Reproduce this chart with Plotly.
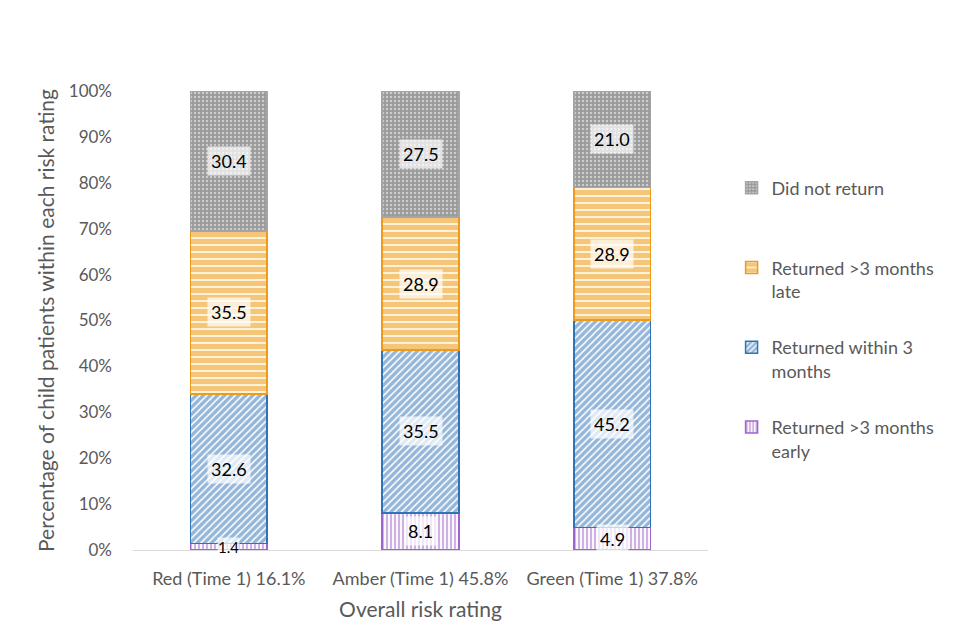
import plotly.graph_objects as go

categories = ["Red (Time 1) 16.1%", "Amber (Time 1) 45.8%", "Green (Time 1) 37.8%"]
early = [1.4, 8.1, 4.9]
within3 = [32.6, 35.5, 45.2]
late = [35.5, 28.9, 28.9]
did_not = [30.4, 27.5, 21.0]

series = [
    ("Returned >3 months<br>early", early,
     dict(shape="|", fgcolor="#9E64CC", bgcolor="#FFFFFF", size=4, solidity=0.55), "#9E64CC", 4),
    ("Returned within 3<br>months", within3,
     dict(shape="/", fgcolor="#2A6FB4", bgcolor="#FFFFFF", size=5, solidity=0.7), "#2E75B6", 3),
    ("Returned >3 months<br>late", late,
     dict(shape="-", fgcolor="#EE9A1C", bgcolor="#FDF1D6", size=7, solidity=0.72), "#EE9A1C", 2),
    ("Did not return<br>\u00a0", did_not,
     dict(shape=".", fgcolor="#FFFFFF", bgcolor="#9A9A9A", size=4, solidity=0.3), "#A5A5A5", 1),
]

fig = go.Figure()
for i, (name, vals, pat, line, rank) in enumerate(series):
    fig.add_trace(go.Bar(
        x=categories, y=vals, name=name, legendgroup=f"g{i}", legendrank=rank,
        marker=dict(color=pat["bgcolor"], pattern=pat, line=dict(color=line, width=1.5)),
        width=0.4,
    ))

annotations = []
base = [0.0] * len(categories)
for name, vals, pat, line, rank in series:
    for j, v in enumerate(vals):
        mid = base[j] + v / 2
        annotations.append(dict(
            x=categories[j], y=mid, xref="x", yref="y", text=f"{v:.1f}", showarrow=False,
            font=dict(size=18 if v > 3 else 15, color="#000000", family="Lato"),
            bgcolor="rgba(255,255,255,0.7)", borderpad=3 if v > 3 else 0,
        ))
        base[j] += v

fig.update_layout(
    barmode="stack",
    width=960, height=640,
    margin=dict(l=125, r=260, t=83, b=98, autoexpand=False),
    paper_bgcolor="white", plot_bgcolor="white",
    font=dict(family="Lato", color="#595959", size=17),
    showlegend=True,
    legend=dict(traceorder="grouped", x=1.041, xanchor="left", y=0.829, yanchor="top",
                valign="top", tracegroupgap=30, font=dict(size=18, color="#595959")),
    annotations=annotations,
)
fig.update_xaxes(showline=True, linecolor="#D9D9D9", linewidth=1, ticks="",
                 ticklabelstandoff=12,
                 title=dict(text="Overall risk rating", font=dict(size=21), standoff=14),
                 tickfont=dict(size=18))
fig.update_yaxes(range=[0, 100], dtick=10, ticksuffix="%", showgrid=False, zeroline=False,
                 showline=False, ticklabelstandoff=20,
                 title=dict(text="Percentage of child patients within each risk rating",
                            font=dict(size=21), standoff=8),
                 tickfont=dict(size=17))

fig.write_html("out.html")
